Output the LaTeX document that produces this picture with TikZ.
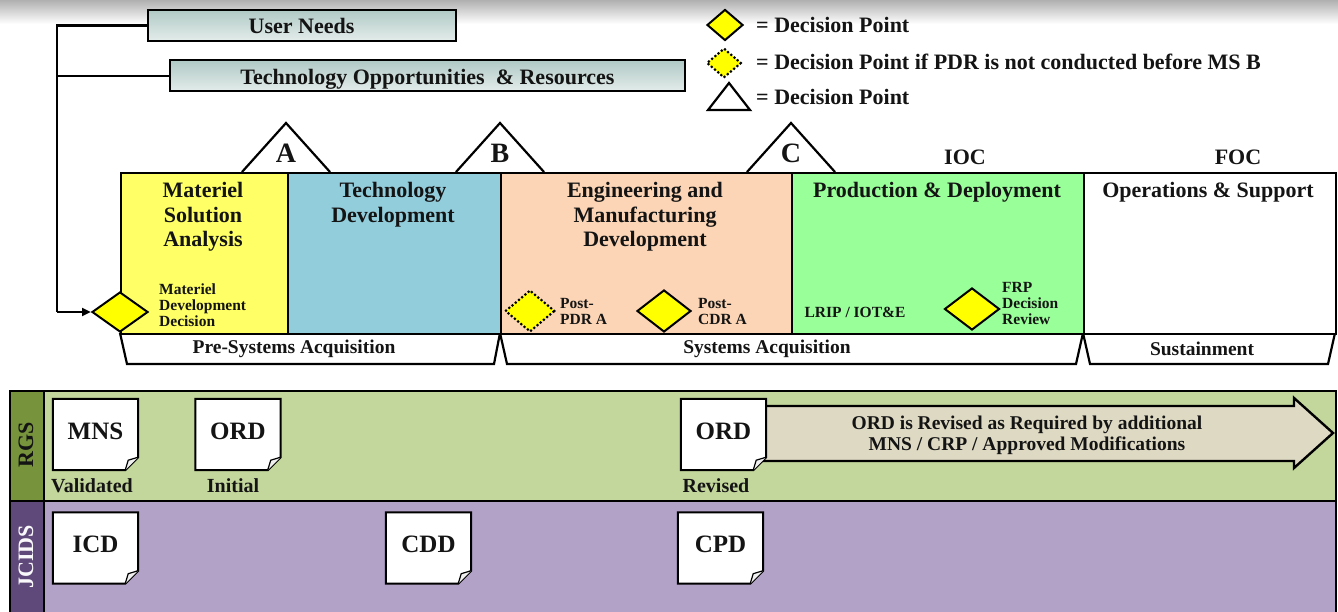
\documentclass[tikz,border=0pt]{standalone}
\usepackage{fontspec}
\setmainfont{Liberation Serif}
\usetikzlibrary{shapes.geometric,arrows.meta}
\definecolor{msay}{HTML}{FFFF66}
\definecolor{tdblue}{HTML}{92CDDC}
\definecolor{emdpeach}{HTML}{FBD5B5}
\definecolor{pdgreen}{HTML}{99FF99}
\definecolor{dpyellow}{HTML}{FFFF00}
\definecolor{rgsl}{HTML}{C3D69B}
\definecolor{rgsd}{HTML}{77933C}
\definecolor{jcl}{HTML}{B2A2C7}
\definecolor{jcd}{HTML}{5F497A}
\definecolor{arrtan}{HTML}{DDD9C3}
\definecolor{boxtop}{RGB}{176,201,197}
\definecolor{boxbot}{RGB}{228,237,235}
\definecolor{ink}{HTML}{141414}
\newcommand{\docpage}[1]{%
  \draw[line width=2pt, fill=white, line join=miter]
    (#1.north west) -- (#1.north east) -- ([yshift=13pt]#1.south east)
    -- ([xshift=-13pt]#1.south east) -- (#1.south west) -- cycle;
  \draw[line width=1.2pt, fill=gray!12, line join=round]
    ([yshift=13pt]#1.south east) -- ([xshift=-10pt,yshift=10pt]#1.south east)
    -- ([xshift=-13pt]#1.south east);
}
\begin{document}
\begin{tikzpicture}[x=1pt,y=-1pt,
  every node/.style={inner sep=0pt, text=ink},
  big/.style={font=\fontsize{22}{24.5}\selectfont\bfseries},
  small/.style={font=\fontsize{15.5}{15.8}\selectfont\bfseries, align=left},
  topbox/.style={draw, line width=2pt, top color=boxtop, bottom color=boxbot, big, text height=21pt, text depth=4pt},
  conn/.style={line width=2.6pt, line join=miter},
  phase/.style={draw, line width=2.2pt, anchor=north west, minimum height=161pt},
  ptitle/.style={big, align=center, anchor=north},
  tri/.style={line width=2.2pt, fill=white, line join=miter},
  trap/.style={line width=2.2pt, fill=white, line join=miter},
  dp/.style={diamond, draw, fill=dpyellow, line width=2pt, line join=miter},
  dpdot/.style={diamond, draw, fill=dpyellow, line width=3pt, dash pattern=on 0pt off 4.2pt, line cap=round},
  mslabel/.style={font=\fontsize{28}{28}\selectfont\bfseries},
  band/.style={draw, line width=2.4pt, anchor=north west},
  docn/.style={minimum width=85pt, minimum height=71pt, font=\fontsize{25}{25}\selectfont\bfseries, text depth=7pt},
  sub/.style={font=\fontsize{20}{20}\selectfont\bfseries},
  acq/.style={font=\fontsize{19.5}{19.5}\selectfont\bfseries}
]
\useasboundingbox (0,0) rectangle (1338,612);
\clip (0,0) rectangle (1338,612);
\fill[white] (0,0) rectangle (1338,612);
\shade[top color=gray!62, bottom color=white] (0,0) rectangle (1338,24);

% top input boxes
\node[topbox, minimum width=308pt, minimum height=31pt] (un) at (301.5,25.5) {User Needs};
\node[topbox, minimum width=515pt, minimum height=31pt] (tor) at (427.5,76) {Technology Opportunities~ \& Resources};

% legend
\node[dp, minimum width=36pt, minimum height=31pt] (lg1) at (725,25) {};
\node[big, anchor=west] (lt1) at (756,25) {= Decision Point};
\node[dpdot, minimum width=35pt, minimum height=30pt] (lg2) at (724,63) {};
\node[big, anchor=west] (lt2) at (756,62) {= Decision Point if PDR is not conducted before MS B};
\draw[tri] (708,110) -- (729,83) -- (750,110) -- cycle;
\coordinate (lg3) at (729,97);
\node[big, anchor=west] (lt3) at (756,97) {= Decision Point};

% milestone triangles
\draw[tri] (242,172) -- (286,123) -- (330,172);
\draw[tri] (456,172) -- (500,123) -- (544,172);
\draw[tri] (747,172) -- (791,123) -- (835,172);
\node[mslabel] (msA) at (286,153) {A};
\node[mslabel] (msB) at (500,153) {B};
\node[mslabel] (msC) at (791,153) {C};
\node[big] (ioc) at (965,157) {IOC};
\node[big] (foc) at (1238,157) {FOC};

% acquisition trapezoids
\draw[trap] (120,333) -- (127,364) -- (494,364) -- (500,333);
\draw[trap] (500,333) -- (507,364) -- (1076,364) -- (1083,333);
\draw[trap] (1083,333) -- (1090,364) -- (1328,364) -- (1335,333);
\node[acq] (pre) at (294,348.5) {Pre-Systems Acquisition};
\node[acq] (sys) at (767,348.5) {Systems Acquisition};
\node[acq] (sus) at (1202,348.5) {Sustainment};

% phase boxes
\node[phase, fill=msay, minimum width=167pt] (msa) at (120,172) {};
\node[phase, fill=tdblue, minimum width=213pt] (td) at (287,172) {};
\node[phase, fill=emdpeach, minimum width=291pt] (emd) at (500,172) {};
\node[phase, fill=pdgreen, minimum width=292pt] (pd) at (791,172) {};
\node[phase, fill=white, minimum width=252pt] (os) at (1083,172) {};

\node[ptitle] (msat) at (203,182.5) {Materiel\\Solution\\Analysis};
\node[ptitle] (tdt) at (393,182.5) {Technology\\Development};
\node[ptitle] (emdt) at (645,182.5) {Engineering and\\Manufacturing\\Development};
\node[ptitle] (pdt) at (937,182.5) {Production \& Deployment};
\node[ptitle] (ost) at (1208,182.5) {Operations \& Support};

% decision points
\node[dp, minimum width=56pt, minimum height=40pt] (mdd) at (120,312) {};
\node[small, anchor=north west] (mddt) at (159,283.5) {Materiel\\Development\\Decision};
\node[dpdot, minimum width=50pt, minimum height=42pt] (pdr) at (530,311) {};
\node[small, anchor=north west] (pdrt) at (560,298.5) {Post-\\PDR A};
\node[dp, minimum width=54pt, minimum height=42pt] (cdr) at (664,311) {};
\node[small, anchor=north west] (cdrt) at (698,298.5) {Post-\\CDR A};
\node[small] (lrip) at (855,312) {LRIP / IOT\&E};
\node[dp, minimum width=55pt, minimum height=42pt] (frp) at (972,309) {};
\node[small, anchor=north west] (frpt) at (1002,282.5) {FRP\\Decision\\Review};

% connectors
\coordinate (turn) at (57,312);
\draw[conn] (un.west) -| (turn);
\draw[conn] (tor.west) -- (tor.west -| turn);
\draw[conn, -{Triangle[length=9pt,width=8pt]}] (turn) -- (mdd.west);

% lower bands
\node[band, fill=rgsl, minimum width=1292pt, minimum height=110pt] (rgsband) at (43,390) {};
\node[band, fill=rgsd, minimum width=34pt, minimum height=110pt] (rgslab) at (9,390) {};
\node[band, fill=jcl, minimum width=1292pt, minimum height=125pt] (jband) at (43,500) {};
\node[band, fill=jcd, minimum width=34pt, minimum height=125pt] (jlab) at (9,500) {};
\node[big, rotate=90, text=ink] (rgst) at (26,445) {RGS};
\node[big, rotate=90, text=white!92!jcl] (jct) at (26,557) {JCIDS};

% revision arrow
\draw[line width=2.4pt, fill=arrtan, line join=miter]
  (760,406) -- (1294,406) -- (1294,398) -- (1333,433) -- (1294,468) -- (1294,461) -- (760,461);
\node[font=\fontsize{19.5}{21.5}\selectfont\bfseries, align=center] (arrt) at (1027,435.5)
  {ORD is Revised as Required by additional\\MNS / CRP / Approved Modifications};

% documents
\node[docn] (mns) at (95.5,434.5) {MNS}; \docpage{mns}
\node[docn] (mns) at (95.5,434.5) {MNS};
\node[docn] (ordi) at (238,434.5) {ORD}; \docpage{ordi}
\node[docn] (ordi) at (238,434.5) {ORD};
\node[docn] (ordr) at (723.5,434.5) {ORD}; \docpage{ordr}
\node[docn] (ordr) at (723.5,434.5) {ORD};
\node[docn] (icd) at (95.5,548) {ICD}; \docpage{icd}
\node[docn] (icd) at (95.5,548) {ICD};
\node[docn] (cdd) at (428.5,548) {CDD}; \docpage{cdd}
\node[docn] (cdd) at (428.5,548) {CDD};
\node[docn] (cpd) at (720.5,548) {CPD}; \docpage{cpd}
\node[docn] (cpd) at (720.5,548) {CPD};

\node[sub] (val) at (92,486) {Validated};
\node[sub] (ini) at (233,486) {Initial};
\node[sub] (rev) at (716,486) {Revised};
\end{tikzpicture}
\end{document}
